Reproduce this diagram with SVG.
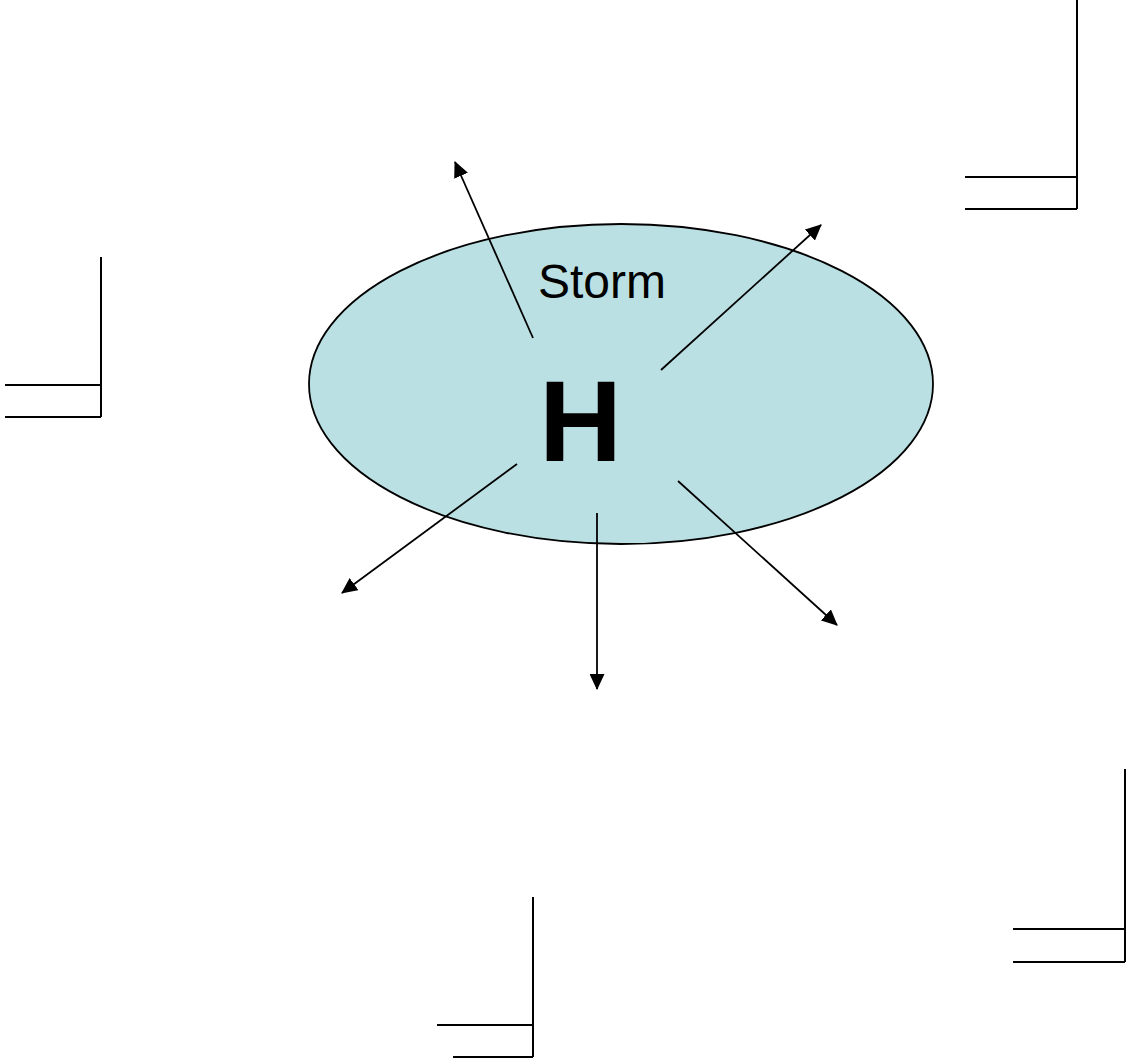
<svg xmlns="http://www.w3.org/2000/svg" width="1131" height="1063" viewBox="0 0 1131 1063">
  <defs>
    <marker id="arrow" markerUnits="userSpaceOnUse" markerWidth="16" markerHeight="15" refX="15" refY="7.5" orient="auto">
      <path d="M0,0 L16,7.5 L0,15 Z" fill="#000"/>
    </marker>
    <style>
      .barb { stroke: #000; stroke-width: 2; fill: none; }
      .flow { stroke: #000; stroke-width: 1.8; fill: none; marker-end: url(#arrow); }
      .label { font-family: "Liberation Sans", Arial, sans-serif; fill: #000; }
    </style>
  </defs>
  <rect width="1131" height="1063" fill="#fff"/>

  <!-- storm cell -->
  <g id="storm">
    <ellipse cx="621" cy="384" rx="312" ry="160" fill="#BBE0E3" stroke="#000" stroke-width="1.8"/>
    <text class="label" x="538" y="298" font-size="48">Storm</text>
    <text class="label" x="539" y="461" font-size="115" font-weight="bold">H</text>
  </g>

  <!-- outflow arrows -->
  <g id="connectors">
    <line class="flow" x1="533" y1="338" x2="455" y2="162"/>
    <line class="flow" x1="661" y1="370" x2="821" y2="225"/>
    <line class="flow" x1="517" y1="464" x2="342" y2="593"/>
    <line class="flow" x1="597" y1="513" x2="597" y2="689"/>
    <line class="flow" x1="678" y1="481" x2="837" y2="625"/>
  </g>

  <!-- wind barbs -->
  <g id="barb-top-right">
    <path class="barb" d="M1077,0 V209 M965,177 H1077 M965,209 H1077"/>
  </g>
  <g id="barb-left">
    <path class="barb" d="M101,257 V417 M5,385 H101 M5,417 H101"/>
  </g>
  <g id="barb-bottom">
    <path class="barb" d="M533,897 V1057 M437,1025 H533 M453,1057 H533"/>
  </g>
  <g id="barb-bottom-right">
    <path class="barb" d="M1125,769 V962 M1013,929 H1125 M1013,962 H1125"/>
  </g>
</svg>
